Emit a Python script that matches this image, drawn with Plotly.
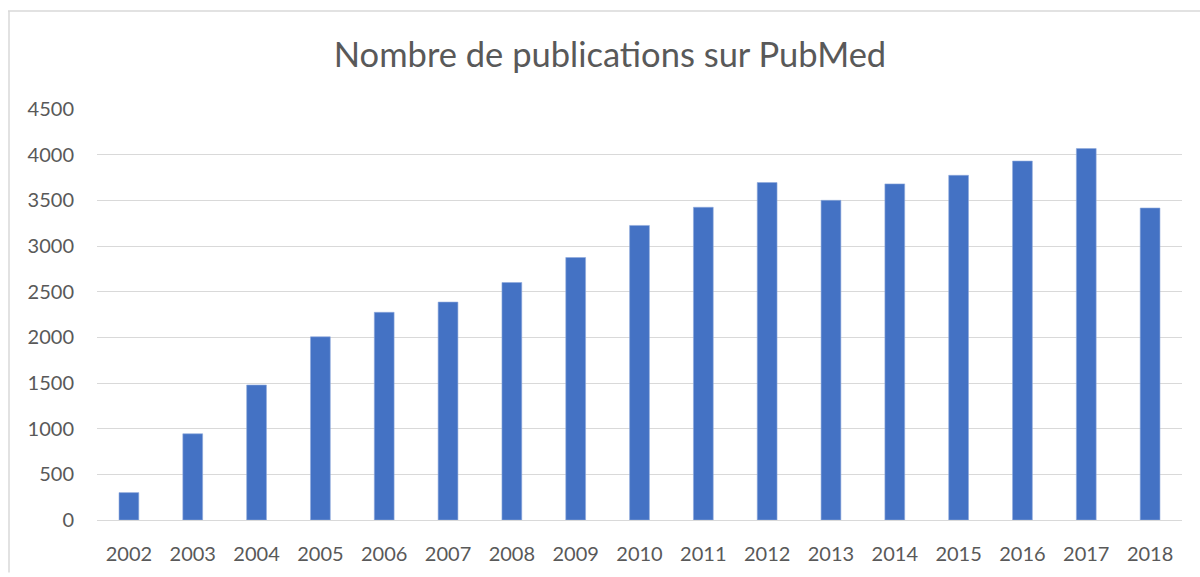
import plotly.graph_objects as go

years = ["2002", "2003", "2004", "2005", "2006", "2007", "2008", "2009", "2010",
         "2011", "2012", "2013", "2014", "2015", "2016", "2017", "2018"]
publications = [300, 944, 1478, 2006, 2274, 2386, 2600, 2874, 3225,
                3424, 3695, 3500, 3680, 3774, 3930, 4067, 3416]
y_ticks = [0, 500, 1000, 1500, 2000, 2500, 3000, 3500, 4000, 4500]

fig = go.Figure(go.Bar(
    x=years, y=publications,
    marker=dict(color="#4472C4", line=dict(color="#8FAADC", width=0.6)),
))

W, H = 1200, 577
ml, mr, mt, mb = 97, 18, 109, 53
pw, ph = W - ml - mr, H - mt - mb

def px(x):
    return (x - ml) / pw

def py(y):
    return 1 - (y - mt) / ph

FONT = "Lato, Open Sans, sans-serif"
fig.update_layout(
    width=W, height=H,
    margin=dict(l=ml, r=mr, t=mt, b=mb, pad=0),
    paper_bgcolor="white", plot_bgcolor="white",
    bargap=0.69,
    showlegend=False,
    font=dict(family=FONT, color="#595959", size=20),
    title=dict(text="Nombre de publications sur PubMed", x=610 / W, xanchor="center",
               y=1 - 55 / H, yanchor="middle",
               font=dict(size=34.5, color="#595959", family=FONT)),
    xaxis=dict(showgrid=False, showline=False, ticks="", ticklabelstandoff=20,
               tickfont=dict(size=20, color="#595959")),
    yaxis=dict(range=[0, 4500], tickvals=y_ticks, showgrid=True, gridcolor="#D9D9D9",
               gridwidth=1.2, zeroline=True, zerolinecolor="#D9D9D9", zerolinewidth=1.2,
               showline=False, ticks="", ticklabelstandoff=22,
               tickfont=dict(size=20, color="#595959")),
    shapes=[
        dict(type="line", xref="paper", yref="paper", x0=px(8), x1=px(1200), y0=py(10), y1=py(10),
             line=dict(color="#D9D9D9", width=1.5)),
        dict(type="line", xref="paper", yref="paper", x0=px(9), x1=px(9), y0=py(10), y1=py(577),
             line=dict(color="#D9D9D9", width=1.5)),
    ],
)

fig.write_html("out.html", config={"displayModeBar": False},
               post_script="document.body.style.margin='0';document.body.style.padding='0';document.body.style.overflow='hidden';")
